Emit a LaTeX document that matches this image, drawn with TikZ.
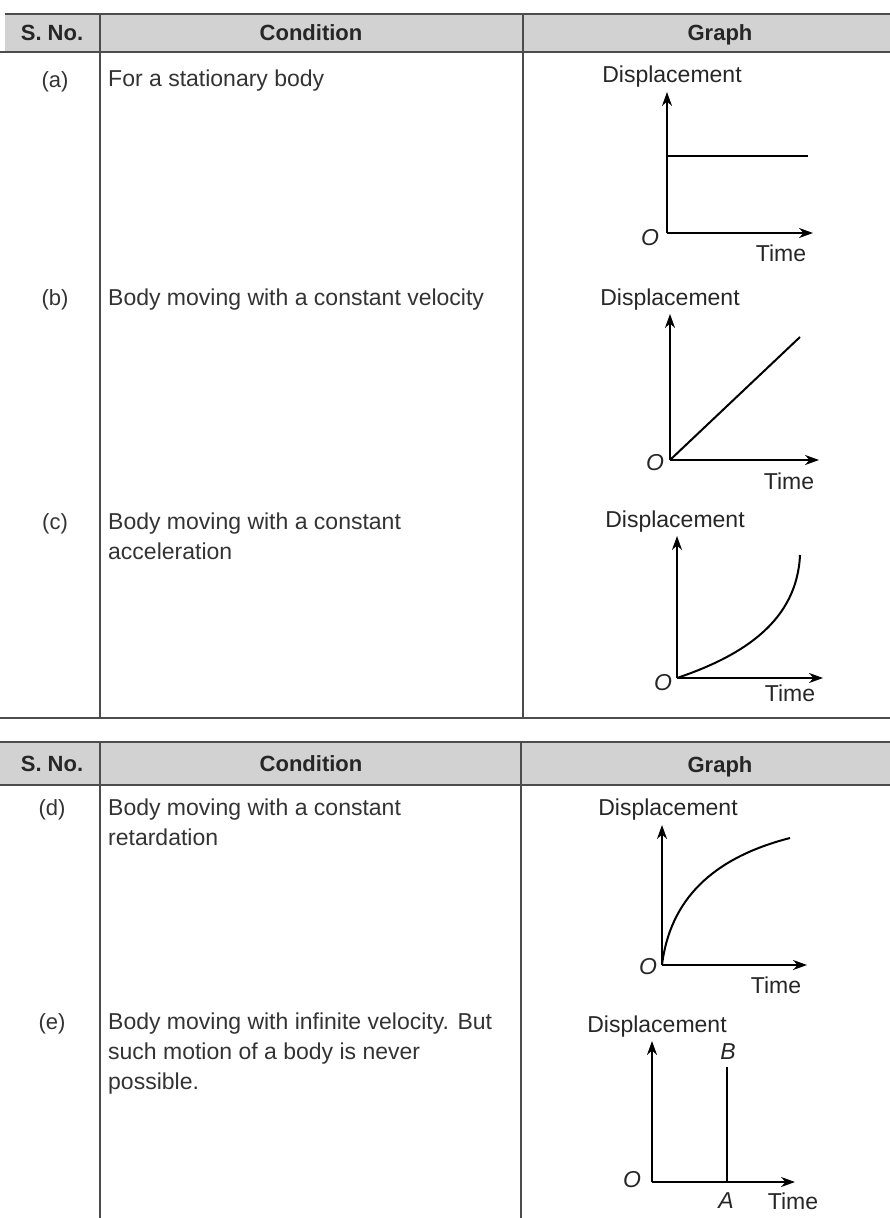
\documentclass[tikz,border=0pt]{standalone}
\usepackage{fontspec}
\setmainfont{Liberation Sans}
\usetikzlibrary{arrows.meta}

\begin{document}
\begin{tikzpicture}[x=1pt,y=-1pt,
  rule/.style={draw=black!70,line width=1.4pt},
  hdrband/.style={fill=gray!35},
  hdr/.style={anchor=base,font=\fontsize{22}{26}\selectfont\bfseries,text=black!85},
  sno/.style={anchor=base,font=\fontsize{22}{26}\selectfont,text=black!80},
  cond/.style={anchor=north west,align=left,inner sep=0pt,font=\fontsize{23}{30}\selectfont,text=black!80},
  lbl/.style={font=\fontsize{23}{26}\selectfont,text=black!85},
  axis/.style={line width=2pt,-{Stealth[length=14pt,width=10pt]}},
  graph/.style={line width=2pt}]
\useasboundingbox (0,0) rectangle (890,1218);

% first table
\fill[hdrband] (5,14) rectangle (890,52);
\draw[rule] (5,14) -- (890,14);
\draw[rule] (0,52) -- (890,52);
\draw[rule] (0,718) -- (890,718);
\draw[rule] (100,14) -- (100,718);
\draw[rule] (523,14) -- (523,718);
\node[hdr] (h1) at (52,40) {S. No.};
\node[hdr] (h2) at (311,40) {Condition};
\node[hdr] (h3) at (720,40) {Graph};

% second table
\fill[hdrband] (0,742) rectangle (890,785);
\draw[rule] (0,742) -- (890,742);
\draw[rule] (0,785) -- (890,785);
\draw[rule] (100,742) -- (100,1218);
\draw[rule] (521,742) -- (521,1218);
\node[hdr] (h4) at (52,771) {S. No.};
\node[hdr] (h5) at (311,771) {Condition};
\node[hdr] (h6) at (720,772) {Graph};

% rows
\node[sno] (na) at (55,87) {(a)};
\node[cond] (ca) at (108,70) {For a stationary body};
\node[sno] (nb) at (55,305) {(b)};
\node[cond] (cb) at (108,289) {Body moving with a constant velocity};
\node[sno] (nc) at (55,529) {(c)};
\node[cond] (cc) at (108,513) {Body moving with a constant\\acceleration};
\node[sno] (nd) at (52,815) {(d)};
\node[cond] (cd) at (108,799) {Body moving with a constant\\retardation};
\node[sno] (ne) at (52,1029) {(e)};
\node[cond] (ce) at (108,1013) {Body moving with infinite velocity. But\\such motion of a body is never\\possible.};

% graph (a)
\coordinate (oa) at (667,233);
\coordinate (ya) at (667,92);
\coordinate (xa) at (813,233);
\draw[axis] (oa) -- (ya);
\draw[axis] (oa) -- (xa);
\draw[graph] (667,156) -- (808,156);
\node[lbl] (da) at (672,77) {Displacement};
\node[lbl] (Oa) at (650,238) {\itshape O};
\node[lbl] (ta) at (781,253) {Time};

% graph (b)
\coordinate (ob) at (670,460);
\coordinate (yb) at (670,314);
\coordinate (xb) at (819,460);
\draw[axis] (ob) -- (yb);
\draw[axis] (ob) -- (xb);
\draw[graph] (ob) -- (800,337);
\node[lbl] (db) at (670,300) {Displacement};
\node[lbl] (Ob) at (655,463) {\itshape O};
\node[lbl] (tb) at (789,481) {Time};

% graph (c)
\coordinate (oc) at (677,678);
\coordinate (yc) at (677,536);
\coordinate (xc) at (823,678);
\draw[axis] (oc) -- (yc);
\draw[axis] (oc) -- (xc);
\draw[graph] (oc) .. controls (745,655) and (797,620) .. (800,555);
\node[lbl] (dc) at (675,522) {Displacement};
\node[lbl] (Oc) at (663,683) {\itshape O};
\node[lbl] (tc) at (790,693) {Time};

% graph (d)
\coordinate (od) at (662,965);
\coordinate (yd) at (662,825);
\coordinate (xd) at (807,965);
\draw[axis] (od) -- (yd);
\draw[axis] (od) -- (xd);
\draw[graph] (od) .. controls (670,900) and (712,858) .. (790,838);
\node[lbl] (dd) at (668,810) {Displacement};
\node[lbl] (Od) at (648,967) {\itshape O};
\node[lbl] (td) at (776,985) {Time};

% graph (e)
\coordinate (oe) at (652,1182);
\coordinate (ye) at (652,1041);
\coordinate (xe) at (795,1182);
\coordinate (pa) at (727,1182);
\coordinate (pb) at (727,1067);
\draw[axis] (oe) -- (ye);
\draw[axis] (oe) -- (xe);
\draw[graph] (pa) -- (pb);
\node[lbl] (de) at (657,1027) {Displacement};
\node[lbl] (Oe) at (632,1180) {\itshape O};
\node[lbl] (Be) at (728,1052) {\itshape B};
\node[lbl] (Ae) at (726,1201) {\itshape A};
\node[lbl] (te) at (793,1201) {Time};
\end{tikzpicture}
\end{document}
